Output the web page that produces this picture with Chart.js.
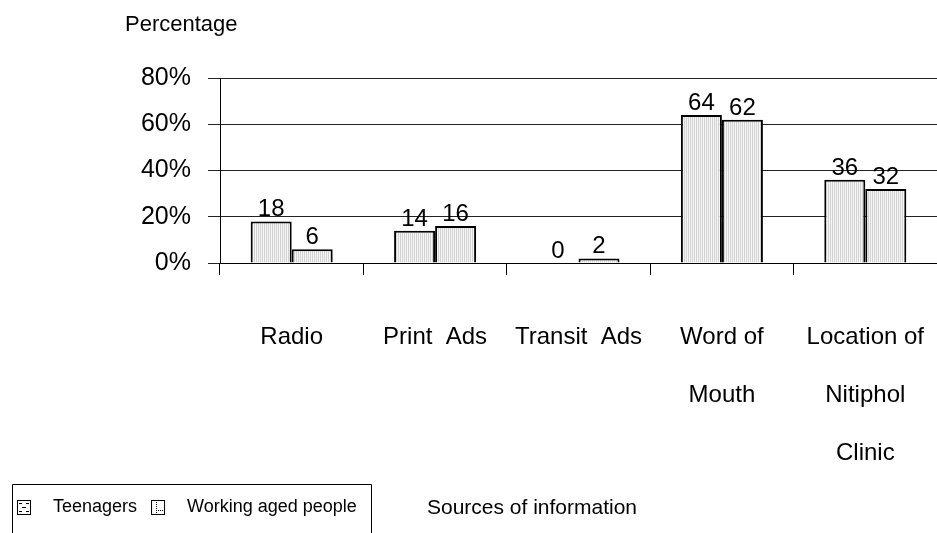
<!DOCTYPE html>
<html>
<head>
<meta charset="utf-8">
<script src="https://cdn.jsdelivr.net/npm/chart.js@4.4.0/dist/chart.umd.min.js"></script>
<style>
  html, body { margin: 0; padding: 0; background: #fff; }
  #wrap { width: 937px; height: 533px; position: relative; }
</style>
</head>
<body>
<div id="wrap"><canvas id="c" width="937" height="533"></canvas></div>
<script>
// Sources of information, share of respondents (%) per group
const categories = [['Radio'], ['Print  Ads'], ['Transit  Ads'], ['Word of', 'Mouth'], ['Location of', 'Nitiphol', 'Clinic']];
const teenagers = [18, 14, 0, 64, 36];
const workingAged = [6, 16, 2, 62, 32];
const seriesNames = ['Teenagers', 'Working aged people'];
const yTicks = [0, 20, 40, 60, 80];

const FONT = '"Liberation Sans", Arial, Helvetica, sans-serif';
Chart.defaults.font.family = FONT;
Chart.defaults.color = '#000';

// fine vertical stipple used for the bar fill
function stipple() {
  const c = document.createElement('canvas');
  c.width = 2; c.height = 2;
  const g = c.getContext('2d');
  g.fillStyle = '#f6f6f6'; g.fillRect(0, 0, 2, 2);
  g.fillStyle = '#d2d2d2'; g.fillRect(0, 0, 1, 2);
  return g.createPattern(c, 'repeat');
}

// legend swatches: boxed hatch symbols, padded on the right so the text sits further away
function swatch(kind) {
  const c = document.createElement('canvas');
  c.width = 27; c.height = 16;
  const g = c.getContext('2d');
  g.fillStyle = '#fff'; g.fillRect(0.5, 1.5, 13, 14);
  g.strokeStyle = '#000'; g.lineWidth = 1;
  g.strokeRect(0.5, 1.5, 13, 14);
  g.fillStyle = '#000';
  if (kind === 0) {
    g.fillRect(2, 4, 3, 1); g.fillRect(9, 4, 3, 1);
    g.fillRect(5, 8, 4, 1);
    g.fillRect(2, 12, 3, 1); g.fillRect(9, 12, 3, 1);
  } else {
    for (let y = 3; y < 15; y += 2) g.fillRect(5, y, 1, 1);
    for (let x = 5; x < 13; x += 2) g.fillRect(x, 11, 1, 1);
  }
  return c;
}
const swatches = [swatch(0), swatch(1)];

// value labels above each bar
const valueLabels = {
  id: 'valueLabels',
  afterDatasetsDraw(chart) {
    const ctx = chart.ctx;
    ctx.save();
    ctx.font = '24px ' + FONT;
    ctx.fillStyle = '#000';
    ctx.textAlign = 'center';
    ctx.textBaseline = 'alphabetic';
    chart.data.datasets.forEach((ds, di) => {
      chart.getDatasetMeta(di).data.forEach((bar, i) => {
        ctx.fillText(String(ds.data[i]), bar.x, bar.y - 5);
      });
    });
    ctx.restore();
  }
};

// axis captions and the frame around the legend
const captions = {
  id: 'captions',
  afterDraw(chart) {
    const ctx = chart.ctx;
    const area = chart.chartArea;
    const lg = chart.legend;
    ctx.save();
    ctx.fillStyle = '#000';
    ctx.textBaseline = 'middle';
    ctx.font = '22px ' + FONT;
    ctx.textAlign = 'left';
    ctx.fillText('Percentage', area.left - 95, 25);

    const boxes = lg.legendHitBoxes;
    if (boxes && boxes.length) {
      const first = boxes[0], last = boxes[boxes.length - 1];
      const midY = first.top + first.height / 2;
      ctx.textAlign = 'center';
      ctx.font = '21px ' + FONT;
      ctx.fillText('Sources of information', 532, midY + 1);

      ctx.strokeStyle = '#000';
      ctx.lineWidth = 1;
      const l = Math.round(first.left) - 4.5;
      const r = Math.round(last.left + last.width) + 14.5;
      const t = Math.round(first.top) - 13.5;
      ctx.beginPath();
      ctx.moveTo(l, chart.height + 5);
      ctx.lineTo(l, t);
      ctx.lineTo(r, t);
      ctx.lineTo(r, chart.height + 5);
      ctx.stroke();
    }
    ctx.restore();
  }
};

const fill = stipple();

new Chart(document.getElementById('c'), {
  type: 'bar',
  data: {
    labels: categories,
    datasets: [
      { label: seriesNames[0], data: teenagers, backgroundColor: fill, borderColor: '#000', borderWidth: 2 },
      { label: seriesNames[1], data: workingAged, backgroundColor: fill, borderColor: '#000', borderWidth: 2 }
    ]
  },
  options: {
    responsive: false,
    animation: false,
    devicePixelRatio: 1,
    layout: { padding: { top: 78, left: 3, right: 0, bottom: 7 } },
    datasets: { bar: { categoryPercentage: 0.572, barPercentage: 1.0 } },
    scales: {
      x: {
        grid: { offset: true, drawOnChartArea: false, drawTicks: true, tickLength: 12, color: '#000', lineWidth: 1 },
        border: { color: '#000', width: 1 },
        ticks: { font: { size: 24, lineHeight: 2.42 }, color: '#000', padding: 33, maxRotation: 0, autoSkip: false },
        afterFit: s => { s.paddingLeft = 0; s.paddingRight = 0; s.height -= 3; }
      },
      y: {
        min: 0, max: 80,
        afterBuildTicks: s => { s.ticks = yTicks.map(v => ({ value: v })); },
        afterFit: s => { s.width = 217; },
        grid: { color: '#222', lineWidth: 1, tickLength: 12, drawTicks: true },
        border: { color: '#000', width: 1 },
        ticks: { callback: v => v + '%', font: { size: 25 }, color: '#000', padding: 17 }
      }
    },
    plugins: {
      tooltip: { enabled: false },
      legend: {
        position: 'bottom',
        align: 'start',
        labels: {
          usePointStyle: true,
          pointStyleWidth: 27,
          boxHeight: 16,
          padding: 14,
          font: { size: 18 },
          color: '#000',
          generateLabels: chart => chart.data.datasets.map((ds, i) => ({
            text: ds.label, pointStyle: swatches[i], fillStyle: '#fff', strokeStyle: '#000',
            lineWidth: 0, hidden: false, datasetIndex: i, fontColor: '#000'
          }))
        }
      }
    }
  },
  plugins: [valueLabels, captions]
});
</script>
</body>
</html>
